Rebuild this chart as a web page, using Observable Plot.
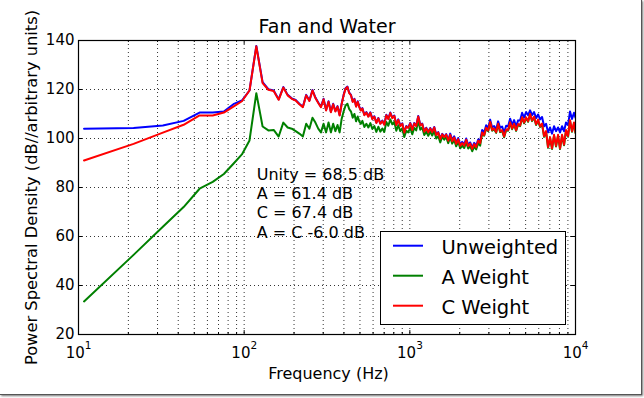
<!DOCTYPE html>
<html>
<head>
<meta charset="utf-8">
<script src="https://cdn.jsdelivr.net/npm/d3@7"></script>
<script src="https://cdn.jsdelivr.net/npm/@observablehq/plot@0.6"></script>
<style>
html, body { margin:0; padding:0; background:#fff; }
#wrap { position:relative; width:644px; height:398px; overflow:hidden; font-family:"DejaVu Sans", sans-serif; }
#paper { position:absolute; left:0; top:0; width:641px; height:394px; background:#fff; border-right:1px solid #555; border-bottom:1px solid #555; box-shadow:1px 1px 2px rgba(0,0,0,0.55); }
#chart { position:absolute; left:0; top:0; }
#legend { position:absolute; left:380px; top:231px; }
</style>
</head>
<body>
<div id="wrap"><div id="paper"></div><div id="chart"></div><div id="legend"></div></div>
<script>
const titleText = "Fan and Water";
const xLabel = "Frequency (Hz)";
const yLabel = "Power Spectral Density (dB//arbitrary units)";
const seriesNames = ["Unweighted", "A Weight", "C Weight"];
const seriesColors = ["#0000ff", "#008000", "#ff0000"];
const noteLines = ["Unity = 68.5 dB", "A = 61.4 dB", "C = 67.4 dB", "A = C -6.0 dB"];

const yTicks = [20, 40, 60, 80, 100, 120, 140];
const xMajor = [10, 100, 1000, 10000];
const xExp = ["1", "2", "3", "4"];
const xMinor = [20,30,40,50,60,70,80,90,200,300,400,500,600,700,800,900,2000,3000,4000,5000,6000,7000,8000,9000];

const freq = [
 10.8,21.5,32.3,43.1,53.8,64.6,75.4,86.1,96.9,107.7,118.4,129.2,140.0,150.7,161.5,172.3,183.0,193.8,204.6,215.3,
 226.1,236.9,247.6,258.4,269.2,280.0,290.7,301.5,312.3,323.0,333.8,344.6,355.3,366.1,376.9,387.6,398.4,409.2,420.0,430.7,
 441.5,452.2,463.0,473.7,484.5,495.3,506.0,
 517,531.5,546.5,561.9,577.7,593.9,610.6,627.8,645.5,663.6,
 682.3,701.5,721.2,741.5,762.4,783.8,805.9,828.5,851.8,875.8,
 900.4,925.7,951.8,978.6,1006,1034,1063,1093,1124,1156,
 1188,1222,1256,1292,1328,1365,1404,1443,1484,1526,
 1569,1613,1658,1705,1753,1802,1853,1905,1959,2014,
 2071,2129,2189,2250,2314,2379,2446,2515,2585,2658,
 2733,2810,2889,2970,3054,3140,3228,3319,3412,3508,
 3607,3708,3813,3920,4030,4144,4260,4380,4504,4630,
 4761,4895,5032,5174,5320,5469,5623,5781,5944,6111,
 6283,6460,6642,6829,7021,7218,7421,7630,7845,8065,
 8292,8526,8766,9012,9266,9527,9795,10000
];

const unweighted = [
 104.0,104.3,105.3,107.2,110.6,110.6,111.0,114.0,115.5,119.6,137.8,123.0,
 120.1,119.6,116.0,121.0,117.8,116.4,115.7,114.2,113.0,117.8,115.5,119.8,116.7,114.7,113.0,116.2,111.6,115.2,
 110.9,114.2,111.2,113.2,109.6,114.2,117.8,120.5,121.2,118.7,117.8,115.1,116.2,113.2,115.2,113.0,111.6,
 112.4,109.7,110.8,109.1,110.7,108.1,109.1,106.5,108.4,106.2,
 107.3,105.8,109.7,108.1,110.6,108.5,109.4,105.7,107.8,105.3,
 106.2,102.6,105.1,104.5,106.4,103.7,106.3,105.3,109.2,105.6,
 106.1,103.0,104.4,102.7,104.3,102.8,104.7,101.6,102.6,100.0,
 101.9,100.7,101.8,99.3,
 102.0,99.4,100.9,98.3,100.2,97.5,98.6,97.6,100.0,97.4,98.4,96.3,98.2,97.0,99.6,
 99.1,103.5,102.4,105.4,104.3,107.7,104.5,105.1,103.6,107.0,
 104.4,104.9,102.3,105.2,105.0,108.1,105.6,107.5,104.9,107.4,
 107.3,110.5,108.5,110.8,109.5,111.5,109.5,110.8,108.3,109.8,107.8,108.8,
 105.0,106.0,102.5,104.5,102.0,105.0,103.0,104.5,102.5,105.0,103.0,106.5,105.5,111.0,108.0,110.5,108.5
];

const aWeight = [
 33.5,52.5,64.0,72.0,79.5,82.3,85.5,89.7,93.5,99.2,118.5,104.9,
 103.3,103.5,100.8,106.5,104.5,104.0,103.0,102.0,100.8,106.0,104.0,108.5,106.5,104.0,102.5,106.0,102.5,106.5,
 102.5,106.0,103.0,105.5,102.5,108.0,111.0,113.5,114.2,112.0,111.0,108.5,110.0,107.0,109.0,107.0,106.0,
 107.2,104.7,106.0,104.5,106.3,103.9,105.1,102.7,104.8,102.8,
 104.1,102.7,106.7,105.2,107.8,105.8,106.8,103.2,105.4,103.0,
 104.2,100.6,103.1,102.5,104.4,101.7,104.3,103.3,107.2,103.6,
 104.5,101.4,102.8,101.1,102.7,101.2,103.1,100.0,101.0,98.4,
 100.7,99.5,100.6,98.1,100.5,97.9,99.4,96.8,98.7,96.0,
 97.1,96.1,98.5,95.9,96.9,94.8,96.7,95.5,98.1,97.1,
 102.2,101.1,104.1,103.0,106.4,103.2,103.8,102.3,105.7,102.6,
 103.1,100.5,103.4,103.2,106.3,103.8,105.7,103.1,105.6,105.0,
 108.4,106.2,108.3,106.8,109.7,107.1,108.6,105.5,107.4,104.7,
 105.8,100.7,102.7,96.2,100.2,95.7,101.2,96.7,101.2,95.7,
 101.2,97.2,103.2,100.7,107.2,102.7,106.2,102.2
];

const cWeight = [
 91.0,97.8,102.4,105.6,109.4,109.4,110.6,113.0,115.2,119.6,
 137.6,122.6,119.9,119.4,115.8,120.8,117.6,116.2,115.5,114.0,
 112.8,117.6,115.3,119.6,116.5,114.5,112.8,116.0,111.4,115.0,
 110.7,114.0,111.0,113.0,109.4,114.0,117.6,120.3,121.0,118.5,
 117.6,114.9,116.0,113.0,115.0,112.8,111.4,
 112.2,109.5,110.6,108.9,110.5,107.9,108.9,106.3,108.2,106.0,
 107.1,105.6,109.5,107.9,110.4,108.3,109.2,105.5,107.6,105.1,
 106.0,102.4,104.9,104.3,106.2,103.5,106.1,105.1,109.0,105.4,
 105.9,102.8,104.2,102.5,104.1,102.6,104.5,101.4,102.4,99.8,
 101.7,100.5,101.6,99.1,101.5,98.9,100.4,97.8,99.7,97.0,
 98.1,97.1,99.5,96.9,97.9,95.8,97.7,96.5,99.1,98.1,
 102.5,101.4,104.4,103.3,106.7,103.5,104.1,102.6,106.0,102.9,
 103.4,100.8,103.7,103.5,106.6,104.1,106.0,103.4,105.9,105.3,
 108.7,106.5,108.6,107.1,110.0,107.4,108.9,105.8,107.7,105.0,
 106.1,101.0,103.0,96.5,100.5,96.0,101.5,97.0,101.5,96.0,
 101.5,97.5,103.5,101.0,107.5,103.0,106.5,102.5
];

const seriesValues = [unweighted, aWeight, cWeight];
const seriesData = seriesValues.map(vals => freq.map((f, i) => ({f, v: vals[i]})));

const font = '"DejaVu Sans", sans-serif';
const dotted = {stroke: "#000", strokeOpacity: 0.8, strokeWidth: 1, strokeDasharray: "1,3"};

const chart = Plot.plot({
  width: 644, height: 398,
  marginLeft: 78, marginRight: 69, marginTop: 40, marginBottom: 64,
  style: {fontFamily: font, background: "transparent", color: "#000", overflow: "visible"},
  x: {type: "log", domain: [10, 10000], axis: null},
  y: {domain: [20, 140], axis: null},
  marks: [
    Plot.ruleX(xMinor.concat(xMajor.slice(1, -1)), {x: d => d, ...dotted}),
    Plot.ruleY(yTicks.slice(1, -1), {y: d => d, ...dotted}),
    ...seriesData.map((data, i) => Plot.line(data, {x: "f", y: "v", stroke: seriesColors[i], strokeWidth: 2, clip: true})),
    Plot.ruleX(xMajor, {x: d => d, y1: 20, y2: 21.6, stroke: "#000"}),
    Plot.ruleX(xMajor, {x: d => d, y1: 140, y2: 138.4, stroke: "#000"}),
    Plot.ruleX(xMinor, {x: d => d, y1: 20, y2: 20.8, stroke: "#000"}),
    Plot.ruleX(xMinor, {x: d => d, y1: 140, y2: 139.2, stroke: "#000"}),
    Plot.ruleY(yTicks, {y: d => d, x1: 10, x2: 10.57, stroke: "#000"}),
    Plot.ruleY(yTicks, {y: d => d, x1: 10000, x2: 9460, stroke: "#000"}),
    Plot.frame({stroke: "#000", strokeWidth: 1.2}),
    Plot.text(yTicks, {y: d => d, text: d => String(d), frameAnchor: "left", textAnchor: "end", dx: -4, fontSize: 15, fill: "#000"}),
    Plot.text(xMajor, {x: d => d, text: () => "10", frameAnchor: "bottom", lineAnchor: "top", textAnchor: "end", dx: 6.3, dy: 12.5, fontSize: 15, fill: "#000"}),
    Plot.text(xMajor, {x: d => d, text: (d, i) => xExp[i], frameAnchor: "bottom", lineAnchor: "top", textAnchor: "start", dx: 6.3, dy: 6.7, fontSize: 10.5, fill: "#000"}),
    Plot.text([titleText], {frameAnchor: "top", lineAnchor: "top", dy: -21.5, fontSize: 19, fill: "#000"}),
    Plot.text([xLabel], {frameAnchor: "bottom", lineAnchor: "top", dy: 32.8, dx: 1.5, fontSize: 16, fill: "#000"}),
    Plot.text([yLabel], {frameAnchor: "left", textAnchor: "middle", rotate: -90, dx: -46.6, fontSize: 16.3, fill: "#000"}),
    Plot.text([noteLines.join("\n")], {x: 119, y: 88.6, textAnchor: "start", lineAnchor: "top", lineHeight: 1.2, fontSize: 16, fill: "#000"})
  ]
});
document.getElementById("chart").appendChild(chart);

const lg = d3.select("#legend").append("svg").attr("width", 186).attr("height", 94)
  .style("font-family", font);
lg.append("rect").attr("x", 0.5).attr("y", 0.5).attr("width", 185).attr("height", 93)
  .attr("fill", "#fff").attr("stroke", "#000").attr("stroke-width", 1);
seriesNames.forEach((name, i) => {
  const cy = 14.7 + 30 * i;
  lg.append("line").attr("x1", 13).attr("x2", 43).attr("y1", cy).attr("y2", cy)
    .attr("stroke", seriesColors[i]).attr("stroke-width", 2);
  lg.append("text").attr("x", 61.5).attr("y", cy + 8.6).attr("font-size", 19.5).attr("fill", "#000").text(name);
});
</script>
</body>
</html>
